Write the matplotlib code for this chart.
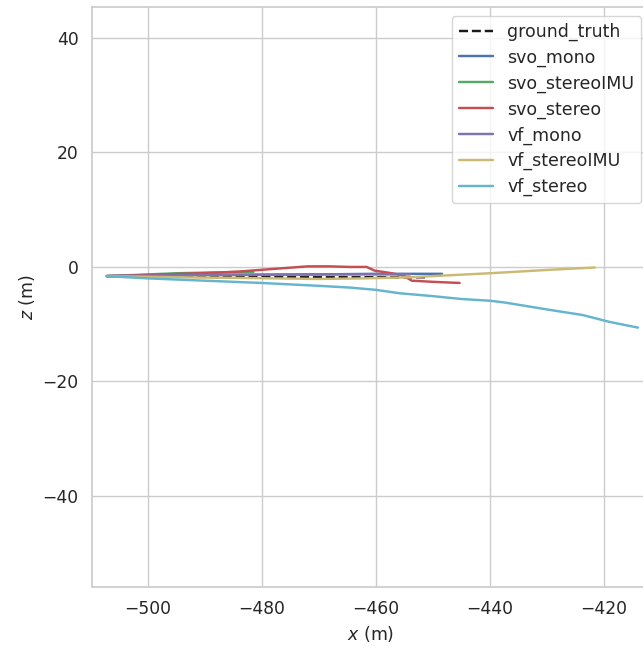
import matplotlib
matplotlib.use('Agg')
import matplotlib.pyplot as plt
import seaborn as sns

sns.set_theme(style='whitegrid')

# trajectories in the x-z plane (m)
gt_x = [-507.2, -495, -480, -465, -451]
gt_z = [-1.6, -1.7, -1.8, -1.8, -1.8]

svo_mono_x = [-507.2, -490, -470, -460, -448.4]
svo_mono_z = [-1.6, -1.4, -1.3, -1.2, -1.2]

svo_stereoIMU_x = [-507.2, -495, -485, -481.5]
svo_stereoIMU_z = [-1.6, -1.1, -0.9, -0.9]

svo_stereo_x = [-507.2, -500, -494, -488, -484, -480, -476, -472, -468, -464.6,
                -461.6, -460.2, -457.5, -455.2, -453.7, -450, -445.3]
svo_stereo_z = [-1.6, -1.4, -1.2, -1.0, -0.8, -0.5, -0.2, 0.1, 0.1, 0.0,
                0.0, -0.65, -1.05, -1.5, -2.4, -2.6, -2.8]

vf_mono_x = [-507.2, -490, -470, -454]
vf_mono_z = [-1.6, -1.4, -1.3, -1.3]

vf_stereoIMU_x = [-507.2, -495, -485, -470, -462, -454, -440, -429.5, -421.6]
vf_stereoIMU_z = [-1.6, -1.8, -1.9, -2.1, -2.0, -1.8, -1.1, -0.5, -0.1]

vf_stereo_x = [-507.2, -500, -490, -480, -470, -464.6, -460, -455.8, -450, -445,
               -440, -437.5, -435, -429.5, -423.7, -419, -414]
vf_stereo_z = [-1.6, -2.0, -2.4, -2.8, -3.3, -3.6, -4.0, -4.6, -5.1, -5.6,
               -5.9, -6.2, -6.6, -7.5, -8.4, -9.6, -10.6]

# old seaborn "deep" palette
colors = ['#4C72B0', '#55A868', '#C44E52', '#8172B2', '#CCB974', '#64B5CD']

fig = plt.figure(figsize=(6.43, 6.48), dpi=100)
ax = fig.add_axes([92 / 643, (648 - 587) / 648, (650 - 92) / 643, (587 - 7) / 648])

ax.plot(gt_x, gt_z, 'k--', lw=1.75, label='ground_truth')
ax.plot(svo_mono_x, svo_mono_z, color=colors[0], lw=1.75, label='svo_mono')
ax.plot(svo_stereoIMU_x, svo_stereoIMU_z, color=colors[1], lw=1.75, label='svo_stereoIMU')
ax.plot(svo_stereo_x, svo_stereo_z, color=colors[2], lw=1.75, label='svo_stereo')
ax.plot(vf_mono_x, vf_mono_z, color=colors[3], lw=1.75, label='vf_mono')
ax.plot(vf_stereoIMU_x, vf_stereoIMU_z, color=colors[4], lw=1.75, label='vf_stereoIMU')
ax.plot(vf_stereo_x, vf_stereo_z, color=colors[5], lw=1.75, label='vf_stereo')

ax.set_xlim(-509.8, -411.9)
ax.set_ylim(-55.9, 45.4)
ax.set_xticks([-500, -480, -460, -440, -420])
ax.set_yticks([-40, -20, 0, 20, 40])
ax.tick_params(labelsize=12.3)
ax.set_xlabel('$x$ (m)', fontsize=12.5)
ax.set_ylabel('$z$ (m)', fontsize=12.5)
ax.legend(loc='upper right', fontsize=12.5, labelspacing=0.44)

fig.savefig('out.png', dpi=100)
